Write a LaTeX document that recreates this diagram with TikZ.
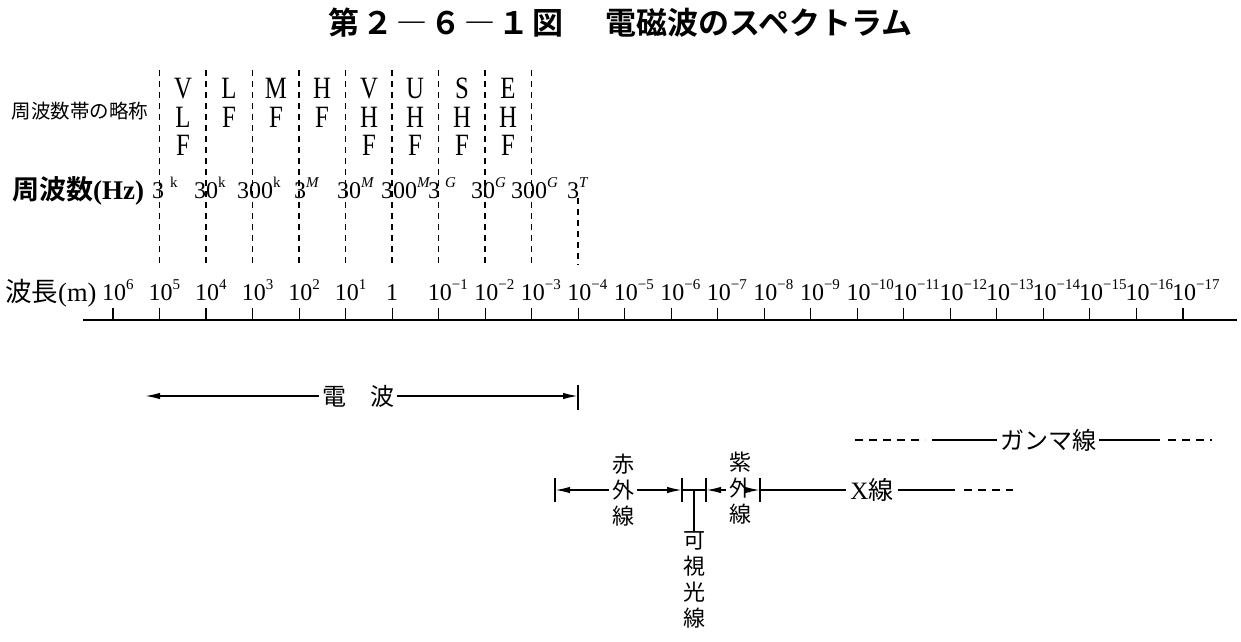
\documentclass[tikz,border=0pt]{standalone}
\usepackage{fontspec}
\setmainfont{Liberation Serif}
\newfontfamily\cjk{Noto Sans CJK JP}
\newfontfamily\cjkb{Noto Sans CJK JP Bold}
\newfontfamily\bandrm[FakeStretch=0.8]{Liberation Serif}
\usetikzlibrary{arrows.meta}
\newcommand\supx[1]{\raisebox{0.42em}{\fontsize{15}{15}\selectfont #1}}
\begin{document}
\begin{tikzpicture}[x=1pt,y=-1pt,
  lbl/.style={inner sep=0pt,font=\fontsize{24}{24}\selectfont},
  cjkv/.style={inner ysep=0pt,inner xsep=3pt,align=center,font=\cjk\fontsize{22}{26}\selectfont},
  cjkh/.style={inner ysep=0pt,inner xsep=3pt,font=\cjk\fontsize{24}{24}\selectfont},
  band/.style={inner sep=0pt,align=center,anchor=north,font=\bandrm\fontsize{31}{28.5}\selectfont},
  divider/.style={line width=1.6pt,dash pattern=on 6pt off 5pt},
  arr/.style={line width=1.6pt,-{Latex[length=15pt,width=6.5pt]}},
  rng/.style={line width=1.6pt},
  dashrng/.style={line width=1.6pt,dash pattern=on 8pt off 6pt},
  bar/.style={line width=1.7pt}]
\fill[white] (0,0) rectangle (1241,641);
\useasboundingbox (0,0) rectangle (1241,641);

% title
\node[anchor=west,inner sep=0pt,font=\cjkb\fontsize{31}{31}\selectfont\addfontfeature{LetterSpace=10}] (t1) at (328,23) {第２―６―１図};
\node[anchor=west,inner sep=0pt,font=\cjkb\fontsize{31}{31}\selectfont] (t2) at (605,23) {電磁波のスペクトラム};

% row headings
\node[inner sep=0pt,font=\cjk\fontsize{19.5}{19.5}\selectfont] (hband) at (80,111) {周波数帯の略称};
\node[anchor=base west,inner sep=0pt,font=\fontsize{27}{27}\selectfont] (hfreq) at (12,199) {{\cjkb 周波数}\textbf{(Hz)}};
\node[anchor=base west,inner sep=0pt,font=\fontsize{26.5}{26.5}\selectfont] (hwave) at (5,301) {{\cjk 波長}(m)};

% dividers
\foreach \i in {1,...,9}
  \draw[divider] ({113+46.52*\i},70) -- ({113+46.52*\i},265);
\draw[divider] (578,198) -- (578,265);

% band names
\node[band] (b1) at (183,78) {V\\L\\F};
\node[band] (b2) at (229,78) {L\\F};
\node[band] (b3) at (276,78) {M\\F};
\node[band] (b4) at (322,78) {H\\F};
\node[band] (b5) at (369,78) {V\\H\\F};
\node[band] (b6) at (415,78) {U\\H\\F};
\node[band] (b7) at (462,78) {S\\H\\F};
\node[band] (b8) at (508,78) {E\\H\\F};

% frequencies
\node[lbl,anchor=base west] (f1) at (152,198) {3\hspace{6pt}\supx{k}};
\node[lbl,anchor=base west] (f2) at (194,198) {30\supx{k}};
\node[lbl,anchor=base west] (f3) at (237,198) {300\supx{k}};
\node[lbl,anchor=base west] (f4) at (294,198) {3\supx{\itshape M}};
\node[lbl,anchor=base west] (f5) at (337,198) {30\supx{\itshape M}};
\node[lbl,anchor=base west] (f6) at (381,198) {300\supx{\itshape M}};
\node[lbl,anchor=base west] (f7) at (428,198) {3\hspace{5pt}\supx{\itshape G}};
\node[lbl,anchor=base west] (f8) at (471,198) {30\supx{\itshape G}};
\node[lbl,anchor=base west] (f9) at (511,198) {300\supx{\itshape G}};
\node[lbl,anchor=base west] (f10) at (567,198) {3\supx{\itshape T}};

% wavelength axis
\coordinate (axL) at (83,320);
\coordinate (axR) at (1237,320);
\draw[line width=2.4pt] (axL) -- (axR);
\foreach \i in {0,...,23}{
  \coordinate (t\i) at ({113+46.52*\i},320);
  \draw[line width=1.1pt] (t\i) -- ++(0,-12);
}
\foreach \i/\e in {0/6,1/5,2/4,3/3,4/2,5/1}
  \node[lbl,anchor=base west] (w\i) at ({113+46.52*\i-11},300) {10\supx{\e}};
\node[lbl,anchor=base] (w6) at (392,300) {1};
\foreach \i in {7,...,23}{
  \pgfmathtruncatemacro\e{\i-6}
  \node[lbl,anchor=base west] (w\i) at ({113+46.52*\i-11},300) {10\supx{−\e}};
}

% radio waves
\node[cjkh] (radio) at (358,396) {電　波};
\coordinate (rL) at (145,396);
\coordinate (rR) at (578,396);
\draw[arr] (radio.west) -- (rL);
\draw[arr] (radio.east) -- (rR);
\draw[bar] (578,385) -- (578,410);

% gamma rays
\node[cjkh] (gamma) at (1048,440) {ガンマ線};
\coordinate (g0) at (855,440);
\coordinate (g1) at (925,440);
\coordinate (g2) at (932,440);
\coordinate (g3) at (1160,440);
\coordinate (g4) at (1168,440);
\coordinate (g5) at (1212,440);
\draw[dashrng] (g0) -- (g1);
\draw[rng] (g2) -- (gamma.west);
\draw[rng] (gamma.east) -- (g3);
\draw[dashrng] (g4) -- (g5);

% infrared
\node[cjkv] (ir) at (623,490) {赤\\外\\線};
\coordinate (irL) at (555,490);
\coordinate (irR) at (682,490);
\draw[arr] (ir.west) -- (irL);
\draw[arr] (ir.east) -- (irR);
\draw[bar] (555,478) -- (555,502);
\draw[bar] (682,478) -- (682,502);

% visible
\coordinate (visR) at (706,490);
\coordinate (visM) at (694,490);
\draw[rng] (irR) -- (visR);
\draw[bar] (706,478) -- (706,502);
\node[cjkv,anchor=north] (vis) at (694,531) {可\\視\\光\\線};
\draw[line width=2.2pt] (visM) -- (vis.north);

% ultraviolet
\node[cjkv] (uv) at (740,488) {紫\\外\\線};
\coordinate (uvR) at (760,490);
\draw[arr] (uv.west |- visR) -- (visR);
\draw[arr] (uv.east |- uvR) -- (uvR);
\draw[bar] (760,478) -- (760,502);

% X rays
\node[inner ysep=0pt,inner xsep=4pt,font=\fontsize{25}{25}\selectfont] (xray) at (872,490) {X{\cjk 線}};
\coordinate (x1) at (955,490);
\coordinate (x2) at (964,490);
\coordinate (x3) at (1013,490);
\draw[rng] (uvR) -- (xray.west);
\draw[rng] (xray.east) -- (x1);
\draw[dashrng] (x2) -- (x3);
\end{tikzpicture}
\end{document}
